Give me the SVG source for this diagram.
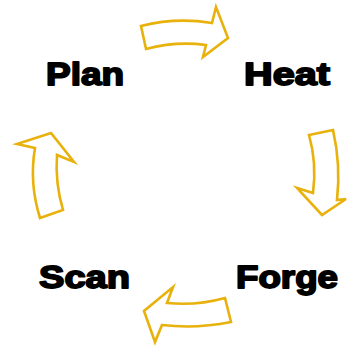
<svg xmlns="http://www.w3.org/2000/svg" width="347" height="346" viewBox="0 0 347 346">
  <style>
    .arrow { fill: #ffffff; stroke: #E8B10B; stroke-width: 2.6; stroke-linejoin: miter; }
    .label { font-family: "Liberation Sans", Arial, sans-serif; font-weight: bold; font-size: 32px; fill: #000000; stroke: #000000; stroke-width: 1.8; stroke-linejoin: round; }
  </style>
  <rect width="347" height="346" fill="#ffffff"/>
  <g id="connectors">
    <!-- Plan to Heat -->
    <path class="arrow" d="M141,26 Q176,17 212,23 L216,7 L228,38 L203,57 L206,45 Q176,41 146,49 Z"/>
    <!-- Heat to Forge -->
    <path class="arrow" d="M309,135 L333,130 Q341,165 337,200 L346,199 L322,215 L297,188 L313,193 Q317,163 309,135 Z"/>
    <!-- Forge to Scan -->
    <path class="arrow" d="M225,298 L231,322 Q196,329 162,325 L155,342 L144,311 L173,287 L167,303 Q196,306 225,298 Z"/>
    <!-- Scan to Plan -->
    <path class="arrow" d="M40,218 L63,210 Q55,183 57,155 L74,162 L51,133 L17,144 L35,148 Q29,183 40,218 Z"/>
  </g>
  <g id="plan"><text class="label" x="46" y="85" textLength="78" lengthAdjust="spacingAndGlyphs">Plan</text></g>
  <g id="heat"><text class="label" x="244" y="85" textLength="86" lengthAdjust="spacingAndGlyphs">Heat</text></g>
  <g id="forge"><text class="label" x="236" y="288" textLength="102" lengthAdjust="spacingAndGlyphs">Forge</text></g>
  <g id="scan"><text class="label" x="39" y="288" textLength="91" lengthAdjust="spacingAndGlyphs">Scan</text></g>
</svg>
